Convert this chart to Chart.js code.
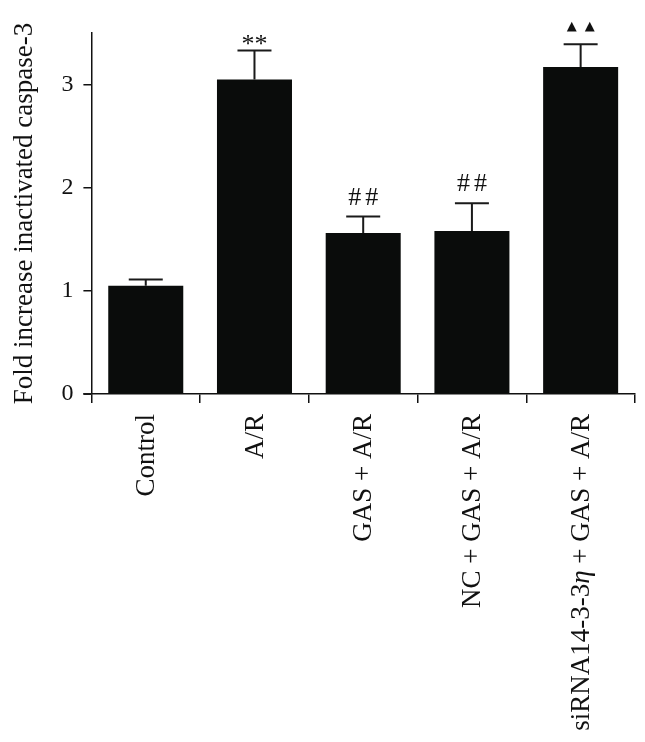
<!DOCTYPE html>
<html>
<head>
<meta charset="utf-8">
<script src="https://cdn.jsdelivr.net/npm/chart.js@4.4.1/dist/chart.umd.min.js"></script>
<style>
    html, body { margin: 0; padding: 0; background: #fff; }
    #wrap { width: 645px; height: 742px; }
</style>
</head>
<body>
<div id="wrap"><canvas id="caspaseChart" width="645" height="742"></canvas></div>
<script>
// Chart data
const groups = ['Control', 'A/R', 'GAS + A/R', 'NC + GAS + A/R', 'siRNA14-3-3η + GAS + A/R'];
const foldIncrease = [1.05, 3.05, 1.56, 1.58, 3.17];
const errUpper = [0.06, 0.28, 0.16, 0.27, 0.22];
const marks = ['', '**', '##', '##', '▲▲'];
const yTicks = [0, 1, 2, 3];

const serif = '"Liberation Serif", "DejaVu Serif", serif';
const ink = '#111';

// Error bars + significance marks, drawn through the chart's scales
const errorBarPlugin = {
    id: 'errorBars',
    afterDatasetsDraw(chart) {
        const ctx = chart.ctx;
        const x = chart.scales.x;
        const y = chart.scales.y;
        ctx.save();
        ctx.strokeStyle = '#1a1a1a';
        ctx.lineWidth = 2;

        // x axis runs a little past the y axis, like the original
        ctx.beginPath();
        ctx.moveTo(x.left - 8, y.bottom);
        ctx.lineTo(x.left, y.bottom);
        ctx.stroke();

        foldIncrease.forEach((v, i) => {
            const cx = x.getPixelForValue(i);
            const top = y.getPixelForValue(v + errUpper[i]);
            ctx.beginPath();
            ctx.moveTo(cx, y.getPixelForValue(v));
            ctx.lineTo(cx, top);
            ctx.moveTo(cx - 17, top);
            ctx.lineTo(cx + 17, top);
            ctx.stroke();

            if (!marks[i]) return;
            ctx.fillStyle = ink;
            ctx.textAlign = 'center';
            ctx.textBaseline = 'alphabetic';
            if (marks[i].startsWith('▲')) {
                ctx.font = '13px "DejaVu Sans"';
                ctx.letterSpacing = '8px';
                ctx.fillText(marks[i], cx + 4, top - 14);
            } else if (marks[i].startsWith('*')) {
                ctx.font = '26px ' + serif;
                ctx.letterSpacing = '0px';
                ctx.fillText(marks[i], cx, top + 1);
            } else {
                ctx.font = '26px ' + serif;
                ctx.letterSpacing = '4px';
                ctx.fillText(marks[i], cx + 2, top - 12);
            }
        });
        ctx.restore();
    }
};

// Rotated category labels (η set in italic)
const xLabelPlugin = {
    id: 'xLabels',
    afterDraw(chart) {
        const ctx = chart.ctx;
        const x = chart.scales.x;
        ctx.save();
        ctx.fillStyle = ink;
        ctx.textBaseline = 'middle';
        ctx.textAlign = 'left';
        groups.forEach((label, i) => {
            const parts = label.split('η');
            const segs = [];
            parts.forEach((p, k) => {
                if (k > 0) segs.push({ t: 'η', it: true });
                if (p) segs.push({ t: p, it: false });
            });
            let total = 0;
            segs.forEach(s => {
                ctx.font = (s.it ? 'italic ' : '') + '27px ' + serif;
                s.w = ctx.measureText(s.t).width;
                total += s.w;
            });
            ctx.save();
            ctx.translate(x.getPixelForValue(i), 414);
            ctx.rotate(-Math.PI / 2);
            let pos = -total;
            segs.forEach(s => {
                ctx.font = (s.it ? 'italic ' : '') + '27px ' + serif;
                ctx.fillText(s.t, pos, 1);
                pos += s.w;
            });
            ctx.restore();
        });
        ctx.restore();
    }
};

const ctx = document.getElementById('caspaseChart');
new Chart(ctx, {
    type: 'bar',
    data: {
        labels: groups,
        datasets: [{
            data: foldIncrease,
            backgroundColor: '#0a0c0b',
            borderWidth: 0,
            categoryPercentage: 1,
            barPercentage: 0.69
        }]
    },
    options: {
        responsive: false,
        animation: false,
        layout: {
            padding: { top: 33, right: 10, bottom: 339, left: 9 }
        },
        plugins: {
            legend: { display: false },
            tooltip: { enabled: false }
        },
        scales: {
            x: {
                grid: {
                    drawOnChartArea: false,
                    drawTicks: true,
                    tickLength: 9,
                    color: ink,
                    lineWidth: 1.5
                },
                border: { color: ink, width: 1.5 },
                ticks: { display: false }
            },
            y: {
                min: 0,
                max: 3.5,
                afterBuildTicks(scale) {
                    scale.ticks = yTicks.map(v => ({ value: v }));
                },
                grid: {
                    drawOnChartArea: false,
                    drawTicks: true,
                    tickLength: 8,
                    color: ink,
                    lineWidth: 1.5
                },
                border: { color: ink, width: 1.5 },
                ticks: {
                    color: ink,
                    padding: 10,
                    font: { family: serif, size: 24 }
                },
                title: {
                    display: true,
                    text: 'Fold increase inactivated caspase-3',
                    color: ink,
                    padding: { top: 0, bottom: 10 },
                    font: { family: serif, size: 27 }
                }
            }
        }
    },
    plugins: [errorBarPlugin, xLabelPlugin]
});
</script>
</body>
</html>
